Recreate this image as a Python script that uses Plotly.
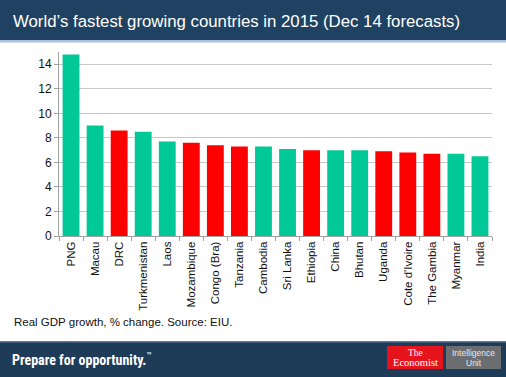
import plotly.graph_objects as go

countries = ["PNG", "Macau", "DRC", "Turkmenistan", "Laos", "Mozambique", "Congo (Bra)",
             "Tanzania", "Cambodia", "Sri Lanka", "Ethiopia", "China", "Bhutan", "Uganda",
             "Cote d'Ivoire", "The Gambia", "Myanmar", "India"]
growth = [14.8, 9.0, 8.6, 8.5, 7.7, 7.6, 7.4, 7.3, 7.3, 7.1, 7.0, 7.0, 7.0, 6.9, 6.8, 6.7, 6.7, 6.5]
group = ["other", "other", "africa", "other", "other", "africa", "africa", "africa", "other",
         "other", "africa", "other", "other", "africa", "africa", "africa", "other", "other"]
group_colors = {"other": "#00C896", "africa": "#FF0000"}

W, H = 506, 377
L, R, T, B = 59, 14, 52, 141
PW, PH = W - L - R, H - T - B


def px(x):
    return (x - L) / PW


def py(y):
    return (H - B - y) / PH


fig = go.Figure()
fig.add_trace(go.Bar(
    x=countries, y=growth,
    marker=dict(color=[group_colors[g] for g in group], line=dict(width=0)),
    width=0.7,
    hoverinfo="x+y",
))

shapes = [
    # top banner
    dict(type="rect", xref="paper", yref="paper", x0=px(0), x1=px(W), y0=py(0), y1=py(40),
         fillcolor="#1f4262", line=dict(width=0), layer="below"),
    dict(type="rect", xref="paper", yref="paper", x0=px(0), x1=px(W), y0=py(40), y1=py(42.5),
         fillcolor="#a9c4dc", line=dict(width=0), layer="below"),
    # bottom banner
    dict(type="rect", xref="paper", yref="paper", x0=px(0), x1=px(W), y0=py(341), y1=py(H),
         fillcolor="#1e3b58", line=dict(width=0), layer="below"),
    dict(type="rect", xref="paper", yref="paper", x0=px(0), x1=px(W), y0=py(341), y1=py(342.5),
         fillcolor="#5a7a96", line=dict(width=0), layer="below"),
    # Economist box
    dict(type="rect", xref="paper", yref="paper", x0=px(387), x1=px(443), y0=py(346), y1=py(369),
         fillcolor="#e5141c", line=dict(width=0)),
    # Intelligence Unit box
    dict(type="rect", xref="paper", yref="paper", x0=px(446), x1=px(501), y0=py(346), y1=py(369),
         fillcolor="#6b6d70", line=dict(width=0)),
]

annotations = [
    dict(text="World\u2019s fastest growing countries in 2015 (Dec 14 forecasts)",
         xref="paper", yref="paper", x=px(11), y=py(22), xanchor="left", yanchor="middle",
         showarrow=False, font=dict(family="Liberation Sans, Arial", size=16.8, color="white")),
    dict(text="Real GDP growth, % change. Source: EIU.",
         xref="paper", yref="paper", x=px(12), y=py(322), xanchor="left", yanchor="middle",
         showarrow=False, font=dict(family="Liberation Sans, Arial", size=11.5, color="#111111")),
    dict(text="<b>Prepare for opportunity.</b><sup>\u2122</sup>",
         xref="paper", yref="paper", x=px(10), y=py(359), xanchor="left", yanchor="middle",
         showarrow=False, font=dict(family="Roboto Condensed, Liberation Sans Narrow, Roboto, Arial",
                                    size=14, color="white")),
    dict(text="The",
         xref="paper", yref="paper", x=px(415), y=py(352.5), xanchor="center", yanchor="middle",
         showarrow=False, font=dict(family="Liberation Serif, DejaVu Serif, serif", size=9.5, color="white")),
    dict(text="Economist",
         xref="paper", yref="paper", x=px(415), y=py(362.5), xanchor="center", yanchor="middle",
         showarrow=False, font=dict(family="Liberation Serif, DejaVu Serif, serif", size=10.5, color="white")),
    dict(text="Intelligence",
         xref="paper", yref="paper", x=px(473.5), y=py(352.5), xanchor="center", yanchor="middle",
         showarrow=False, font=dict(family="Liberation Sans Narrow, Liberation Sans, Arial", size=8.5, color="#e8e8e8")),
    dict(text="Unit",
         xref="paper", yref="paper", x=px(473.5), y=py(362.5), xanchor="center", yanchor="middle",
         showarrow=False, font=dict(family="Liberation Sans Narrow, Liberation Sans, Arial", size=8.5, color="#e8e8e8")),
]

fig.update_layout(
    width=W, height=H,
    margin=dict(l=L, r=R, t=T, b=B, pad=0),
    paper_bgcolor="white", plot_bgcolor="white",
    showlegend=False,
    shapes=shapes, annotations=annotations,
    bargap=0.3,
    xaxis=dict(
        tickangle=-90, showline=True, linecolor="#a0a0a0", linewidth=1,
        ticks="outside", tickson="boundaries", ticklen=4, tickcolor="#a0a0a0",
        tickfont=dict(family="Liberation Sans, Arial", size=11.5, color="#111111"),
        showgrid=False, fixedrange=True,
    ),
    yaxis=dict(
        range=[0, 15], dtick=2, tick0=0, showline=True, linecolor="#a0a0a0", linewidth=1,
        ticks="outside", ticklen=4, tickcolor="#a0a0a0",
        showgrid=True, gridcolor="#c8c8c8", gridwidth=1, zeroline=False,
        tickfont=dict(family="Liberation Sans, Arial", size=12, color="#111111"),
        fixedrange=True,
    ),
)

fig.write_html("out.html", config={"displayModeBar": False},
               post_script="document.body.style.margin='0';document.body.style.overflow='hidden';")
